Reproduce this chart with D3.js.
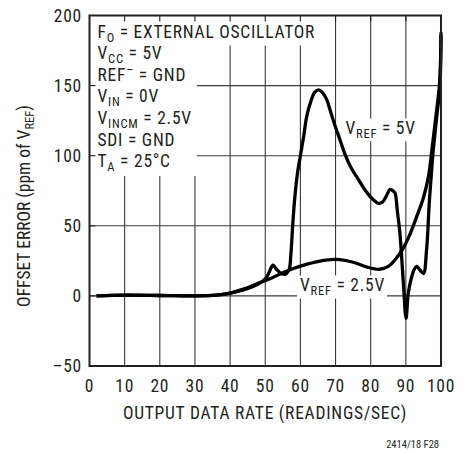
<!DOCTYPE html>
<html><head><meta charset="utf-8">
<script src="https://cdn.jsdelivr.net/npm/d3@7"></script>
<style>
html,body{margin:0;padding:0;background:#fff;}
svg{display:block;}
text{font-family:"Liberation Sans Narrow","Arial Narrow","Roboto Condensed",sans-serif;fill:#231f20;}
</style></head>
<body>
<svg id="chart" width="468" height="453"></svg>
<script>
// ---- data ----
const xTicks = [0,10,20,30,40,50,60,70,80,90,100];
const yTicks = [-50,0,50,100,150,200];
const yTickLabels = ["\u201350","0","50","100","150","200"];

const vref5Rate  = [2,10,20,30,36,40,44,48,50.3,51.3,52.2,53.2,54.5,55.8,56.8,57.3,57.8,58.4,59.2,60,61,61.8,63,64,65.1,66.3,67.5,68.4,69.5,71.3,72.7,74.3,76,78,79.8,81,82.2,83.4,84.6,85.5,86.3,86.9,87.6,88.3,89.3,90.05,90.7,91.7,92.4,93.1,94,95,95.9,96.7,97.4,97.8,98.8,99.7,100];
const vref5Val   = [0,0.5,0.3,0,0.5,2,4.5,8.5,13,18,22,19,16,15.5,19,30,50,70,88,100,115,128,139,145,147,145,140,133,124,111,101,92,85,77,71,68,66,67,72,76,75,73.5,60,45,9,-16,2,14,19,21,18.5,16,33,68,92,104,128,150,188];

const vref25Rate = [2,10,20,30,36,40,44,48,52,55,58,61,65,70,75,79,82.5,85,87,89,91,93,95,96.5,97.4,98.5,99.6,100];
const vref25Val  = [0,0.5,0.3,0,0.5,2,5,9,13,16.5,19.5,22,24.5,26,24,20.5,19,21,26,33,43,56,70,86,104,127,152,186];

const notes = [
  [["F",""],["O","sub"],[" = EXTERNAL OSCILLATOR",""]],
  [["V",""],["CC","sub"],[" = 5V",""]],
  [["REF",""],["\u2013","sup"],[" = GND",""]],
  [["V",""],["IN","sub"],[" = 0V",""]],
  [["V",""],["INCM","sub"],[" = 2.5V",""]],
  [["SDI = GND",""]],
  [["T",""],["A","sub"],[" = 25\u00B0C",""]]
];

// ---- layout ----
const svg = d3.select("#chart");
const L = 89.5, R = 441, T = 15.5, B = 366;
const x = d3.scaleLinear().domain([0,100]).range([L,R]);
const y = d3.scaleLinear().domain([-50,200]).range([B,T]);
const LS = "0.75px";

const grid = svg.append("g");
grid.selectAll("line.v").data(xTicks.slice(1,-1)).join("line")
  .attr("x1",d=>x(d)).attr("x2",d=>x(d)).attr("y1",T).attr("y2",B)
  .attr("stroke","#3a3a3a").attr("stroke-width",1.1);
grid.selectAll("line.h").data(yTicks.slice(1,-1)).join("line")
  .attr("x1",L).attr("x2",R).attr("y1",d=>y(d)).attr("y2",d=>y(d))
  .attr("stroke","#3a3a3a").attr("stroke-width",1.1);

const bgLayer = svg.append("g");
const curveLayer = svg.append("g");
const frameLayer = svg.append("g");
const textLayer = svg.append("g");

// annotation block
const fs = 17.5, subFs = 12.5, subDy = 4;
const lineGap = 21.6;
const noteX = 97.5, noteY0 = 37.5;
const noteBoxes = [];
notes.forEach((parts,i)=>{
  const t = textLayer.append("text").attr("x",noteX).attr("y",noteY0+i*lineGap)
    .attr("font-size",fs).attr("letter-spacing",LS);
  parts.forEach(([s,kind])=>{
    const ts = t.append("tspan").text(s);
    if(kind==="sub"||kind==="sup"){ ts.attr("font-size",subFs); }
  });
  let cur = 0;
  t.selectAll("tspan").each(function(d,j){
    const kind = parts[j][1];
    const target = kind==="sub"?subDy:(kind==="sup"?-7:0);
    d3.select(this).attr("dy", target-cur);
    cur = target;
  });
  noteBoxes.push(t.node().getBBox());
});
const b0 = noteBoxes[0];
bgLayer.append("rect").attr("x",L).attr("y",T).attr("width",b0.x+b0.width+4-L).attr("height",b0.y+b0.height+1-T).attr("fill","#fff");
const rest = noteBoxes.slice(1);
const restRight = d3.max(rest,b=>b.x+b.width)+5;
const restBottom = d3.max(rest,b=>b.y+b.height)+2;
bgLayer.append("rect").attr("x",L).attr("y",T).attr("width",restRight-L).attr("height",restBottom-T).attr("fill","#fff");

// curve labels
function curveLabel(px,py,val){
  const t = textLayer.append("text").attr("x",px).attr("y",py).attr("font-size",fs).attr("letter-spacing",LS);
  t.append("tspan").text("V");
  t.append("tspan").text("REF").attr("font-size",subFs).attr("dy",subDy);
  t.append("tspan").text(" = "+val).attr("dy",-subDy);
  const b = t.node().getBBox();
  bgLayer.append("rect").attr("x",b.x-3).attr("y",b.y+1).attr("width",b.width+5).attr("height",b.height).attr("fill","#fff");
}
curveLabel(345.5,133.5,"5V");
curveLabel(300,290.5,"2.5V");

// curves
const line = d3.line().curve(d3.curveCatmullRom.alpha(0.5)).x(d=>x(d[0])).y(d=>y(d[1]));
curveLayer.append("path").datum(d3.zip(vref25Rate,vref25Val)).attr("d",line)
  .attr("fill","none").attr("stroke","#000").attr("stroke-width",3.3).attr("stroke-linejoin","round");
curveLayer.append("path").datum(d3.zip(vref5Rate,vref5Val)).attr("d",line)
  .attr("fill","none").attr("stroke","#000").attr("stroke-width",3.3).attr("stroke-linejoin","round");

// frame and inward ticks
frameLayer.append("rect").attr("x",L).attr("y",T).attr("width",R-L).attr("height",B-T)
  .attr("fill","none").attr("stroke","#231f20").attr("stroke-width",2);
frameLayer.selectAll("line.tx").data(xTicks.slice(1,-1)).join("line")
  .attr("x1",d=>x(d)).attr("x2",d=>x(d)).attr("y1",T).attr("y2",T+6).attr("stroke","#231f20").attr("stroke-width",1.1);
frameLayer.selectAll("line.ty").data(yTicks.slice(1,-1)).join("line")
  .attr("x1",L).attr("x2",L+6).attr("y1",d=>y(d)).attr("y2",d=>y(d)).attr("stroke","#231f20").attr("stroke-width",1.1);

// tick labels
textLayer.selectAll("text.xt").data(xTicks).join("text").attr("class","xt")
  .attr("x",d=>x(d)).attr("y",392).attr("text-anchor","middle").attr("font-size",fs).attr("letter-spacing",LS).text(d=>d);
textLayer.selectAll("text.yt").data(yTicks).join("text").attr("class","yt")
  .attr("x",82).attr("y",d=>y(d)+6.3).attr("text-anchor","end").attr("font-size",fs).attr("letter-spacing",LS).text((d,i)=>yTickLabels[i]);

// axis titles
textLayer.append("text").attr("x",265).attr("y",419).attr("text-anchor","middle").attr("font-size",fs).attr("letter-spacing",LS)
  .text("OUTPUT DATA RATE (READINGS/SEC)");
const yt = textLayer.append("text").attr("transform","translate(30,206) rotate(-90)").attr("text-anchor","middle").attr("font-size",fs);
yt.append("tspan").text("OFFSET ERROR (ppm of V");
yt.append("tspan").text("REF").attr("font-size",subFs).attr("dy",subDy);
yt.append("tspan").text(")").attr("dy",-subDy);

textLayer.append("text").attr("x",439).attr("y",448).attr("text-anchor","end").attr("font-size",10.5).text("2414/18 F28");
</script>
</body></html>
